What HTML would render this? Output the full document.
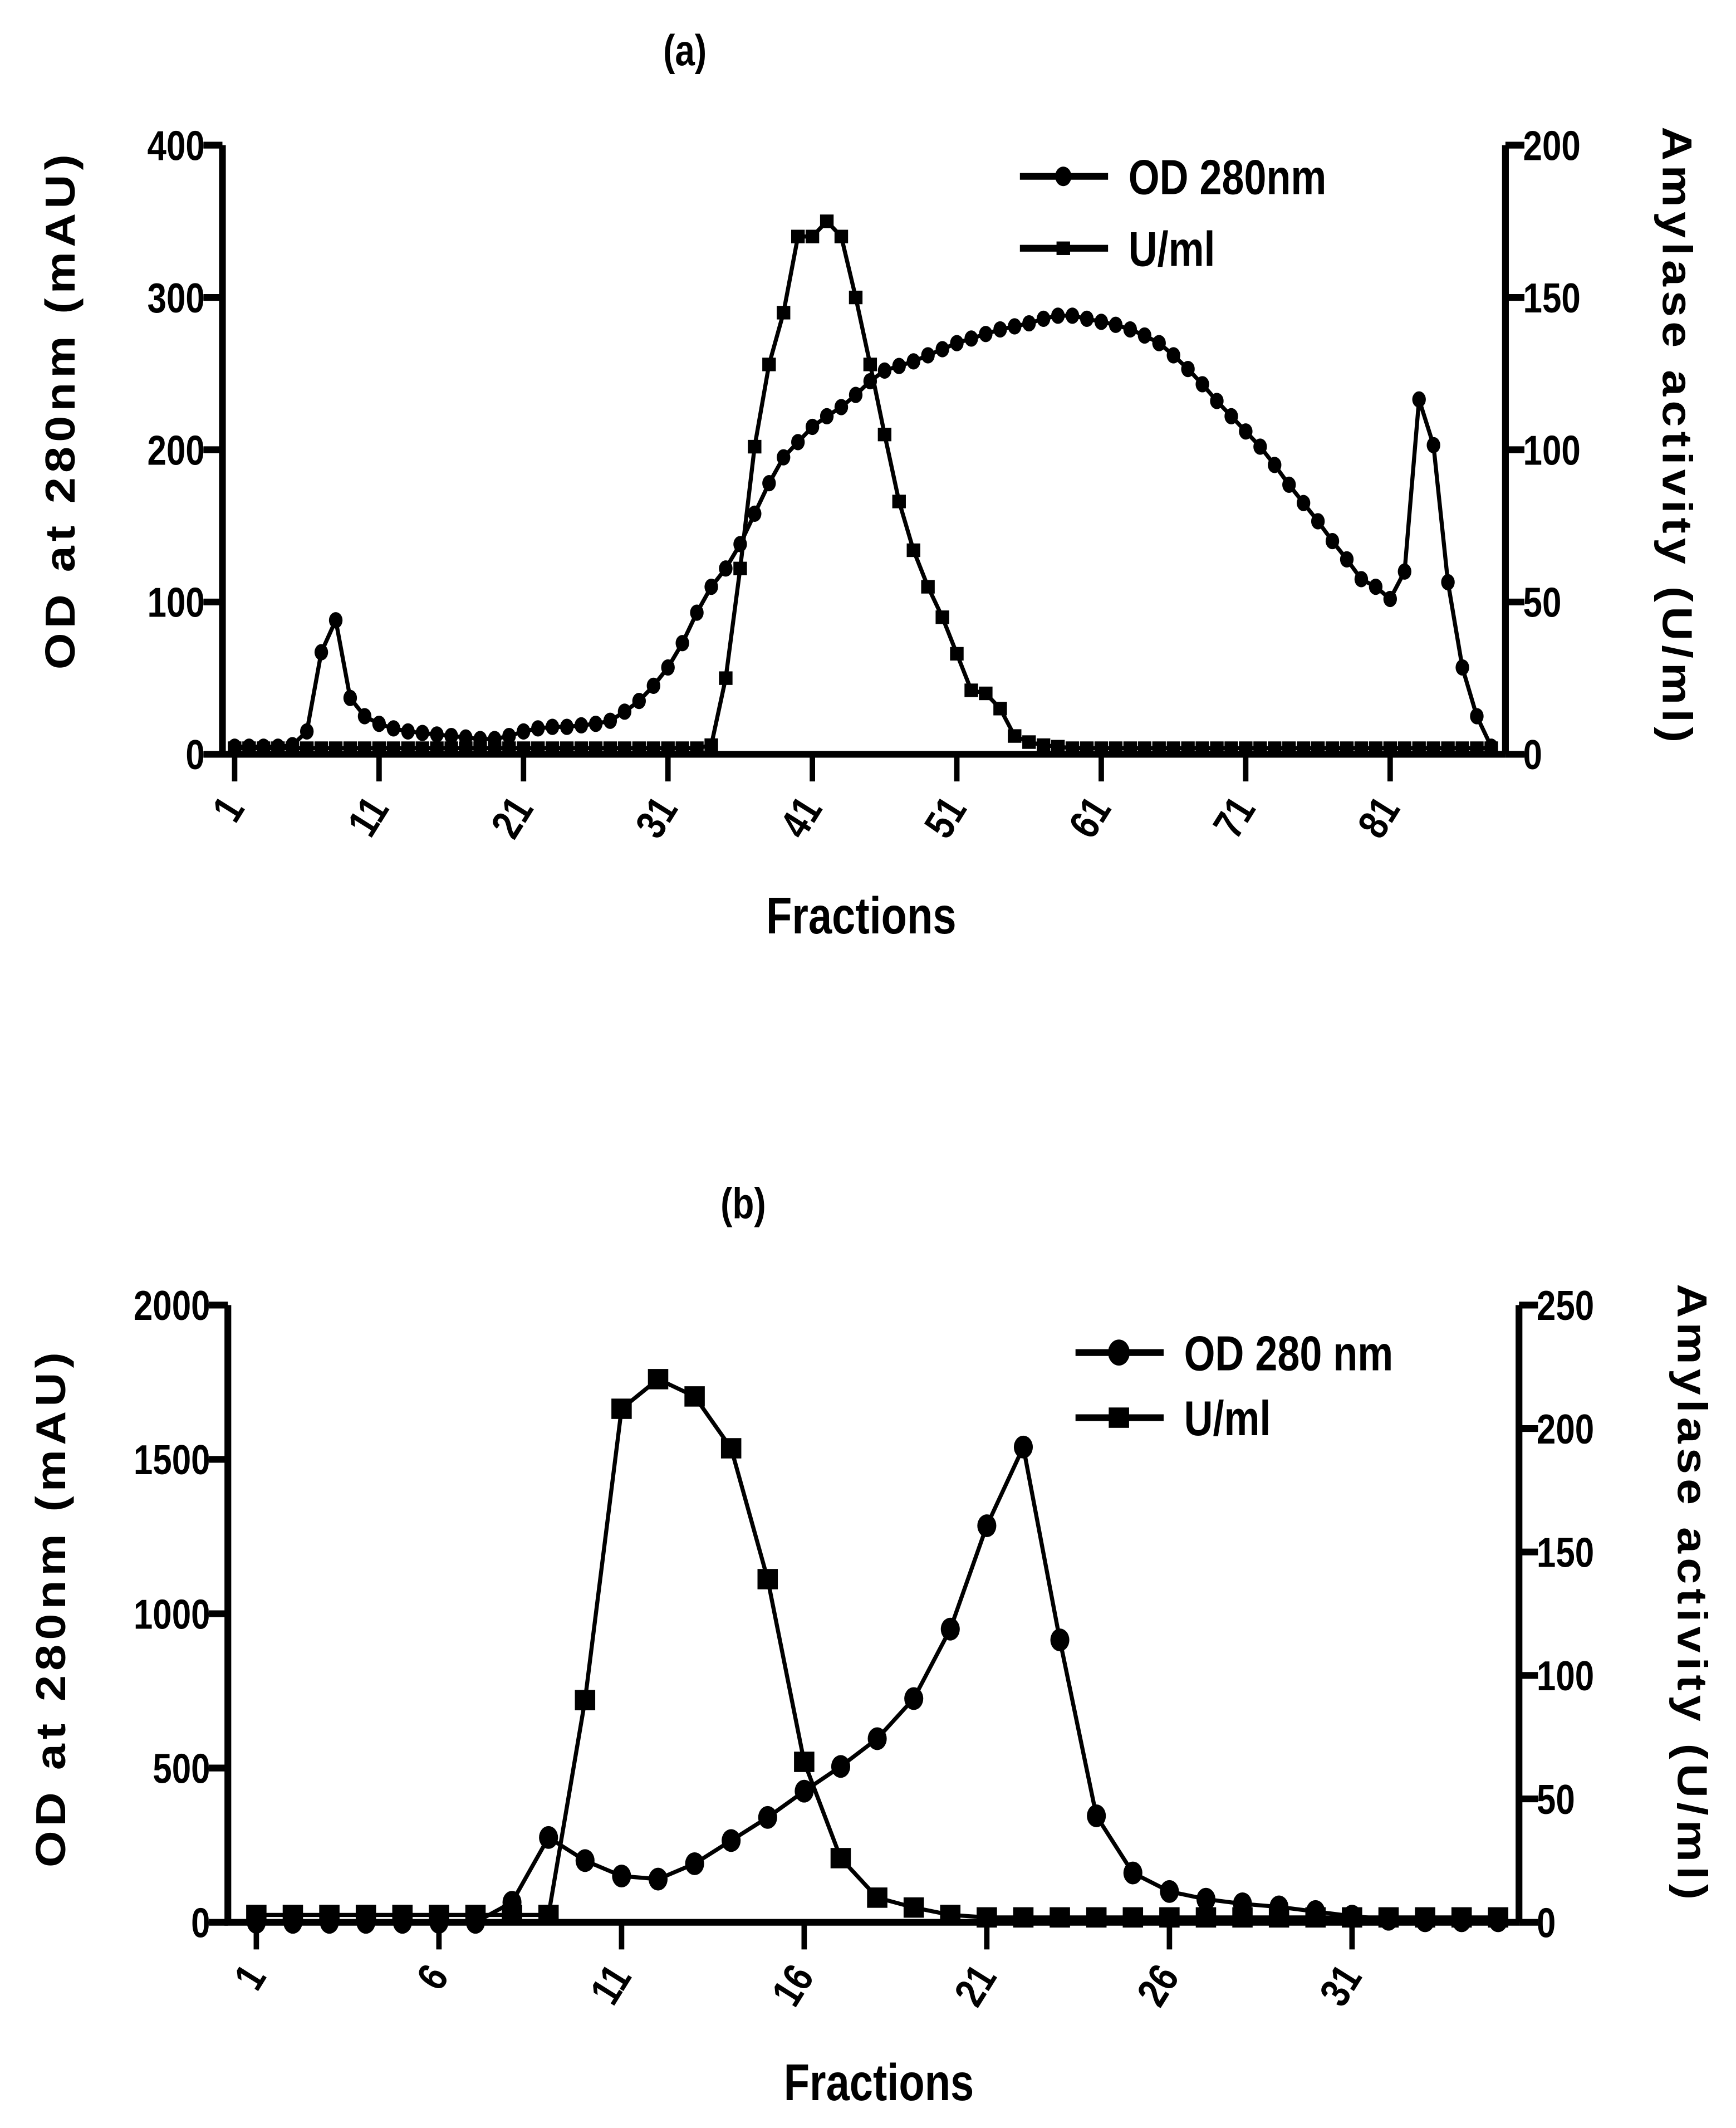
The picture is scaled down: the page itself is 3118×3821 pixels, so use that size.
<!DOCTYPE html>
<html><head><meta charset="utf-8"><style>
html,body{margin:0;padding:0;background:#fff;}
svg{display:block;}
text{font-family:"Liberation Sans",Arial,sans-serif;font-weight:bold;fill:#000;}
</style></head><body>
<svg id="fig" width="3118" height="3821" viewBox="0 0 1280 1568.6" xmlns="http://www.w3.org/2000/svg">
<g id="pa"></g>
<g id="pb"></g>
</svg>
<script>
// Panel (a) data
const fracA = Array.from({length:88},(_,i)=>i+1);
const odA = [5,5,5,5,6,15,67,88,37,25,20,17,15,14,13,12,11,10,10,12,15,17,18,18,19,20,22,28,35,45,57,73,93,110,122,138,158,178,195,205,215,222,228,236,245,252,255,258,262,266,270,273,276,279,281,283,286,288,288,286,284,282,279,275,270,262,253,243,232,222,212,202,190,177,165,153,140,128,115,110,102,120,233,203,113,57,25,5];
const uA = [2,2,2,2,2,2,2,2,2,2,2,2,2,2,2,2,2,2,2,2,2,2,2,2,2,2,2,2,2,2,2,2,2,3,25,61,101,128,145,170,170,175,170,150,128,105,83,67,55,45,33,21,20,15,6,4,3,2.5,2,2,2,2,2,2,2,2,2,2,2,2,2,2,2,2,2,2,2,2,2,2,2,2,2,2,2,2,2,2];
const ticksXA = [1,11,21,31,41,51,61,71,81];
const ticksYLA = [0,100,200,300,400];
const ticksYRA = [0,50,100,150,200];
// Panel (b) data
const fracB = Array.from({length:35},(_,i)=>i+1);
const odB = [0,0,0,0,0,0,0,65,275,200,150,140,190,265,340,425,505,595,725,950,1285,1540,915,345,160,100,75,60,50,35,20,10,5,5,5];
const uB = [3,3,3,3,3,3,3,3,3,90,208,220,213,192,139,65,26,10,6,3,2,2,2,2,2,2,2,2,2,2,2,2,2,2,2];
const ticksXB = [1,6,11,16,21,26,31];
const ticksYLB = [0,500,1000,1500,2000];
const ticksYRB = [0,50,100,150,200,250];

const NS="http://www.w3.org/2000/svg";
function mk(parent,tag,attrs,txt){const e=document.createElementNS(NS,tag);for(const k in attrs)e.setAttribute(k,attrs[k]);if(txt!==undefined)e.textContent=txt;parent.appendChild(e);return e;}
// condensed text: transform with horizontal squeeze
function ct(parent,x,y,size,anchor,str,extra){
  return mk(parent,'text',{x:0,y:0,'font-size':size,'text-anchor':anchor,transform:`translate(${x} ${y}) ${extra||''} scale(0.82 1)`},str);
}

function panel(g,cfg){
  const sx=f=>cfg.x0+(f-cfg.f0)*cfg.dx;
  const syL=v=>cfg.yb-(v/cfg.lmax)*(cfg.yb-cfg.yt);
  const syR=v=>cfg.yb-(v/cfg.rmax)*(cfg.yb-cfg.yt);
  const t=ct(g,cfg.titleX,cfg.titleY,32,'middle',cfg.title);
  
  
  const ax=mk(g,'path',{d:`M${cfg.axL} ${cfg.yt} V${cfg.yb} H${cfg.axR} M${cfg.axR} ${cfg.yt} V${cfg.yb}`,stroke:'#000','stroke-width':5,fill:'none'});
  
  
  cfg.tyl.forEach(v=>{
    const y=syL(v);
    mk(g,'line',{x1:cfg.axL-14,x2:cfg.axL,y1:y,y2:y,stroke:'#000','stroke-width':5});
    const l=ct(g,cfg.axL-13,y+11,31,'end',v);
    
    
  });
  cfg.tyr.forEach(v=>{
    const y=syR(v);
    mk(g,'line',{x1:cfg.axR,x2:cfg.axR+14,y1:y,y2:y,stroke:'#000','stroke-width':5});
    const l=ct(g,cfg.axR+13,y+11,31,'start',v);
    
    
  });
  cfg.tx.forEach(f=>{
    const x=sx(f);
    mk(g,'line',{x1:x,x2:x,y1:cfg.yb,y2:cfg.yb+20,stroke:'#000','stroke-width':4});
    const l=ct(g,x+8,cfg.yb+40,31,'end',f,'rotate(-58)');
    
    
  });
  const xt=ct(g,cfg.xtX,cfg.xtY,38,'middle','Fractions');
  
  
  const yl=mk(g,'text',{x:0,y:0,'font-size':31,'letter-spacing':3,'text-anchor':'middle',transform:`translate(${cfg.ylX} ${cfg.ylY}) rotate(-90) scale(1.12 1)`},'OD at 280nm (mAU)');
  
  
  const yr=mk(g,'text',{x:0,y:0,'font-size':31,'letter-spacing':3,'text-anchor':'middle',transform:`translate(${cfg.yrX} ${cfg.yrY}) rotate(90) scale(1.12 1)`},'Amylase activity (U/ml)');
  
  
  const lineOD=mk(g,'polyline',{points:cfg.fr.map((f,i)=>sx(f)+','+syL(cfg.od[i])).join(' '),fill:'none',stroke:'#000','stroke-width':3});
  
  
  const lineU=mk(g,'polyline',{points:cfg.fr.map((f,i)=>sx(f)+','+syR(cfg.u[i])).join(' '),fill:'none',stroke:'#000','stroke-width':3});
  
  
  const s=cfg.sq;
  cfg.fr.forEach((f,i)=>{
    const r=mk(g,'rect',{x:sx(f)-s/2,y:syR(cfg.u[i])-s/2,width:s,height:s,fill:'#000'});
    
    
  });
  cfg.fr.forEach((f,i)=>{
    const c=mk(g,'ellipse',{cx:sx(f),cy:syL(cfg.od[i]),rx:cfg.cr,ry:cfg.cr*1.2,fill:'#000'});
    
    
  });
  const lg=mk(g,'g',{});
  
  
  const lx=cfg.legX, ly=cfg.legY;
  mk(lg,'line',{x1:lx,x2:lx+65,y1:ly,y2:ly,stroke:'#000','stroke-width':5});
  mk(lg,'ellipse',{cx:lx+32,cy:ly,rx:cfg.cr+1,ry:(cfg.cr+1)*1.2,fill:'#000'});
  const e1=ct(lg,lx+80,ly+13,36,'start',cfg.legOD);
  
  
  mk(lg,'line',{x1:lx,x2:lx+65,y1:ly+cfg.legGap,y2:ly+cfg.legGap,stroke:'#000','stroke-width':5});
  mk(lg,'rect',{x:lx+32-s/2,y:ly+cfg.legGap-s/2,width:s,height:s,fill:'#000'});
  const e2=ct(lg,lx+80,ly+cfg.legGap+13,36,'start','U/ml');
  
  
}

panel(document.getElementById('pa'),{title:'(a)',titleX:505,titleY:48,axL:164,axR:1110,yt:107,yb:556,x0:173,f0:1,dx:10.65,lmax:400,rmax:200,
  tyl:ticksYLA,tyr:ticksYRA,tx:ticksXA,fr:fracA,od:odA,u:uA,sq:10,cr:5,xtX:635,xtY:688,ylX:55,ylY:302,yrX:1226,yrY:322,
  legX:752,legY:130,legGap:53,legOD:'OD 280nm'});
panel(document.getElementById('pb'),{title:'(b)',titleX:548,titleY:898,axL:168,axR:1120,yt:962,yb:1417,x0:189,f0:1,dx:26.93,lmax:2000,rmax:250,
  tyl:ticksYLB,tyr:ticksYRB,tx:ticksXB,fr:fracB,od:odB,u:uB,sq:15,cr:7,xtX:648,xtY:1548,ylX:48,ylY:1185,yrX:1237,yrY:1175,
  legX:793,legY:997,legGap:48,legOD:'OD 280 nm'});
</script>
</body></html>
